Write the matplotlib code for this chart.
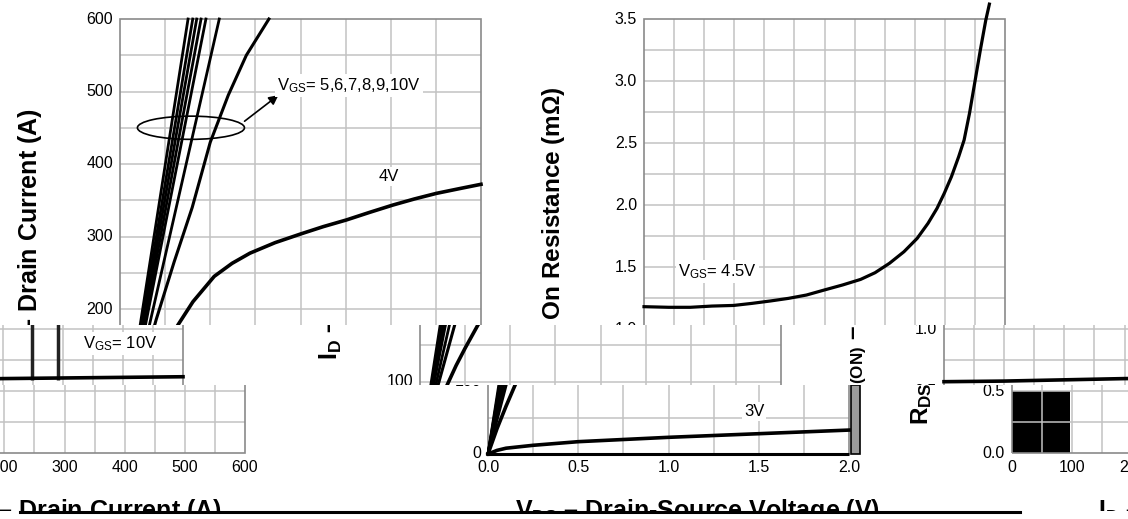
import matplotlib
matplotlib.use('Agg')
import matplotlib.pyplot as plt
from matplotlib.patches import Ellipse, Rectangle, FancyArrowPatch
from matplotlib.lines import Line2D
import numpy as np

plt.rcParams['font.family'] = ['Liberation Sans', 'DejaVu Sans']
plt.rcParams['mathtext.fontset'] = 'custom'
plt.rcParams['mathtext.rm'] = 'Liberation Sans'
plt.rcParams['mathtext.it'] = 'Liberation Sans:italic'
plt.rcParams['mathtext.bf'] = 'Liberation Sans:bold'

# ---------------- data: output characteristics (left chart) ----------------
vds_ticks = [0.0, 0.5, 1.0, 1.5, 2.0]
id_ticks = [0, 100, 200, 300, 400, 500, 600]
# VGS = 5..10 V : nearly straight lines, V_DS reached at I_D = 600 A
steep_vds_at_600 = [0.377, 0.403, 0.425, 0.449, 0.476, 0.550]
steep_id_top = 600
curve7_vds = [0, 0.1, 0.2, 0.3, 0.4, 0.5, 0.6, 0.7, 0.825]
curve7_id = [0, 95, 185, 265, 340, 430, 495, 550, 600]
vgs4_vds = [0, 0.05, 0.10, 0.15, 0.20, 0.25, 0.321, 0.404, 0.522, 0.621, 0.720, 0.859,
            1.007, 1.126, 1.254, 1.383, 1.512, 1.630, 1.753, 1.888, 2.0]
vgs4_id = [0, 35, 66, 95, 122, 146, 178, 210, 245, 263, 277, 291.5,
           304, 313.6, 322.8, 333.3, 343.4, 351.7, 359.5, 366.4, 372]
vgs3_vds = [0, 0.05, 0.1, 0.25, 0.5, 1.0, 1.5, 2.0]
vgs3_id = [0, 5, 8, 12, 17, 23, 28, 33]

# ---------------- data: on-resistance vs drain current (right chart) ----------------
id2_ticks = [0, 100, 200, 300, 400, 500, 600]
r_ticks = [0.0, 0.5, 1.0, 1.5, 2.0, 2.5, 3.0, 3.5]
r45_id = [0, 41, 77, 113, 149, 180, 210, 240, 270, 300, 330, 360, 384, 408, 432, 454,
          472, 487, 499, 511, 523, 532, 541, 550, 559, 568, 574]
r45_r = [1.18, 1.175, 1.175, 1.185, 1.19, 1.207, 1.226, 1.247, 1.274, 1.315, 1.355, 1.40,
         1.454, 1.53, 1.623, 1.731, 1.852, 1.973, 2.094, 2.229, 2.39, 2.524, 2.74, 2.995,
         3.25, 3.49, 3.62]
r10_id = [0, 100, 200, 300, 400, 500, 600]
r10_r = [0.575, 0.58, 0.59, 0.60, 0.605, 0.61, 0.615]

# ---------------- layout (pixel geometry of the picture) ----------------
W, H = 1128, 519
LEFT = (120, 180.5, 454, 0.725)    # x0 px, px per V, y0 px, px per A
RIGHT = (644, 0.6017, 453, 124.0)  # x0 px, px per A, y0 px, px per mOhm
# bands: (x0, x1, y0, y1, horizontal shift)
BANDS = {
    'T': [(0, 1128, 0, 325, 0)],
    'M': [(300, 1128, 325, 385, 300), (0, 300, 325, 385, -822)],
    'B': [(368, 1128, 385, 483, 368), (0, 368, 385, 483, -760)],
    'X': [(400, 1128, 483, 511, 400), (0, 400, 483, 511, -728)],
}
GRID = '#c2c2c2'
SPINE = '#8a8a8a'
TICKFS = 11.5
LABFS = 18

fig = plt.figure(figsize=(W / 100, H / 100), dpi=100)
fig.patch.set_facecolor('white')


def px2x(chart, px):
    return (px - chart[0]) / chart[1]


def px2y(chart, py):
    return (chart[2] - py) / chart[3]


def make_axes(chart, band):
    bx0, bx1, by0, by1, s = band
    ax = fig.add_axes([bx0 / W, 1 - by1 / H, (bx1 - bx0) / W, (by1 - by0) / H])
    ax.set_axis_off()
    ax.set_xlim(px2x(chart, bx0 - s), px2x(chart, bx1 - s))
    ax.set_ylim(px2y(chart, by1), px2y(chart, by0))
    ax.set_autoscale_on(False)
    return ax


def txt(ax, x, y, s, **kw):
    t = ax.text(x, y, s, **kw)
    t.set_clip_on(True)
    t.set_clip_box(ax.bbox)
    return t


WHITE_BOX = dict(facecolor='white', edgecolor='none', pad=1.5)


def draw_left(ax):
    C = LEFT
    ax.vlines(np.arange(0.25, 2.0, 0.25), 0, 600, color=GRID, lw=1.1, zorder=1)
    ax.hlines(np.arange(50, 600, 50), 0, 2.0, color=GRID, lw=1.1, zorder=1)
    ax.add_patch(Rectangle((0, 0), 2.0, 600, fill=False, ec=SPINE, lw=1.2, zorder=2))
    ax.plot([0, 2.0], [0, 0], color='black', lw=2.2, zorder=3, solid_capstyle='butt')
    for v in steep_vds_at_600:
        ax.plot([0, v], [0, steep_id_top], color='black', lw=2.0, zorder=4)
    ax.plot(curve7_vds, curve7_id, color='black', lw=2.2, zorder=4)
    ax.plot(vgs4_vds, vgs4_id, color='black', lw=2.6, zorder=4)
    ax.plot(vgs3_vds, vgs3_id, color='black', lw=2.6, zorder=4)
    for t in id_ticks:
        txt(ax, px2x(C, 113), t, str(t), ha='right', va='center', fontsize=TICKFS)
    for t in vds_ticks:
        txt(ax, t, px2y(C, 468), f'{t:.1f}', ha='center', va='center', fontsize=TICKFS)
    ax.add_patch(Ellipse((0.393, 450), 0.593, 32, fill=False, ec='black', lw=1.2, zorder=5))
    ax.add_patch(FancyArrowPatch((0.690, 459), (0.878, 495), arrowstyle='-|>',
                                 mutation_scale=14, color='black', lw=1.2,
                                 shrinkA=0, shrinkB=0, zorder=5))
    txt(ax, 0.870, 502, r'V$_{\mathrm{GS}}$= 5,6,7,8,9,10V', ha='left', va='baseline',
        fontsize=12, bbox=WHITE_BOX, zorder=6)
    txt(ax, 1.435, 376.6, '4V', ha='left', va='baseline', fontsize=12, bbox=WHITE_BOX, zorder=6)
    txt(ax, 1.418, 52.8, '3V', ha='left', va='baseline', fontsize=12, bbox=WHITE_BOX, zorder=6)
    txt(ax, px2x(C, 30), px2y(C, 108), r'I$_{\mathbf{D}}$ – Drain Current (A)', rotation=90,
        ha='center', va='top', fontsize=LABFS, fontweight='bold', zorder=6)
    txt(ax, px2x(C, 298), px2y(C, 497), r'V$_{\mathbf{DS}}$ – Drain-Source Voltage (V)',
        ha='center', va='top', fontsize=LABFS, fontweight='bold', zorder=6)


def draw_right(ax):
    C = RIGHT
    ax.vlines(np.arange(50, 600, 50), 0, 3.5, color=GRID, lw=1.1, zorder=1)
    ax.hlines(np.arange(0.25, 3.5, 0.25), 0, 600, color=GRID, lw=1.1, zorder=1)
    ax.add_patch(Rectangle((0, 0), 600, 3.5, fill=False, ec=SPINE, lw=1.2, zorder=2))
    ax.plot(r45_id, r45_r, color='black', lw=2.3, zorder=4)
    ax.plot(r10_id, r10_r, color='black', lw=2.6, zorder=4)
    for t in r_ticks:
        txt(ax, px2x(C, 637), t, f'{t:.1f}', ha='right', va='center', fontsize=TICKFS)
    for t in id2_ticks:
        txt(ax, t, px2y(C, 468), str(t), ha='center', va='center', fontsize=TICKFS)
    txt(ax, 56.5, 1.427, r'V$_{\mathrm{GS}}$= 4.5V', ha='left', va='baseline',
        fontsize=12, bbox=WHITE_BOX, zorder=6)
    txt(ax, 434, 0.847, r'V$_{\mathrm{GS}}$= 10V', ha='left', va='baseline',
        fontsize=12, bbox=WHITE_BOX, zorder=6)
    txt(ax, px2x(C, 555), px2y(C, 86), r'R$_{\mathbf{DS(ON)}}$ – On Resistance (mΩ)',
        rotation=90, ha='center', va='top', fontsize=17.5, fontweight='bold', zorder=6)
    txt(ax, px2x(C, 824), px2y(C, 497), r'I$_{\mathbf{D}}$ – Drain Current (A)',
        ha='center', va='top', fontsize=LABFS, fontweight='bold', zorder=6)


all_axes = []
for key, pieces in BANDS.items():
    for i, band in enumerate(pieces):
        axl = make_axes(LEFT, band)
        draw_left(axl)
        axr = make_axes(RIGHT, band)
        draw_right(axr)
        all_axes += [axl, axr]
        # scan-line artefacts seen in the picture
        if key == 'B' and i == 0:
            axr.add_patch(Rectangle((0, 0), 96, 0.5, fc='black', ec='none', zorder=0.5))
            axl.add_patch(Rectangle((2.011, 0), 0.05, 95, fc='#9a9a9a', ec='black',
                                    lw=1.2, zorder=3))
        if key == 'M' and i == 1:
            axr.vlines([349, 392], 0.59, 1.1, color='#222222', lw=2.5, zorder=3)

# drop text copies that fall completely outside their band
renderer = fig.canvas.get_renderer()
for ax in all_axes:
    for t in list(ax.texts):
        if not t.get_window_extent(renderer).overlaps(ax.bbox):
            t.remove()

fig.add_artist(Line2D([20 / W, 1020 / W], [1 - 512 / H, 1 - 512 / H],
                      color='black', lw=2.2, transform=fig.transFigure))

fig.savefig('out.png', dpi=100)
